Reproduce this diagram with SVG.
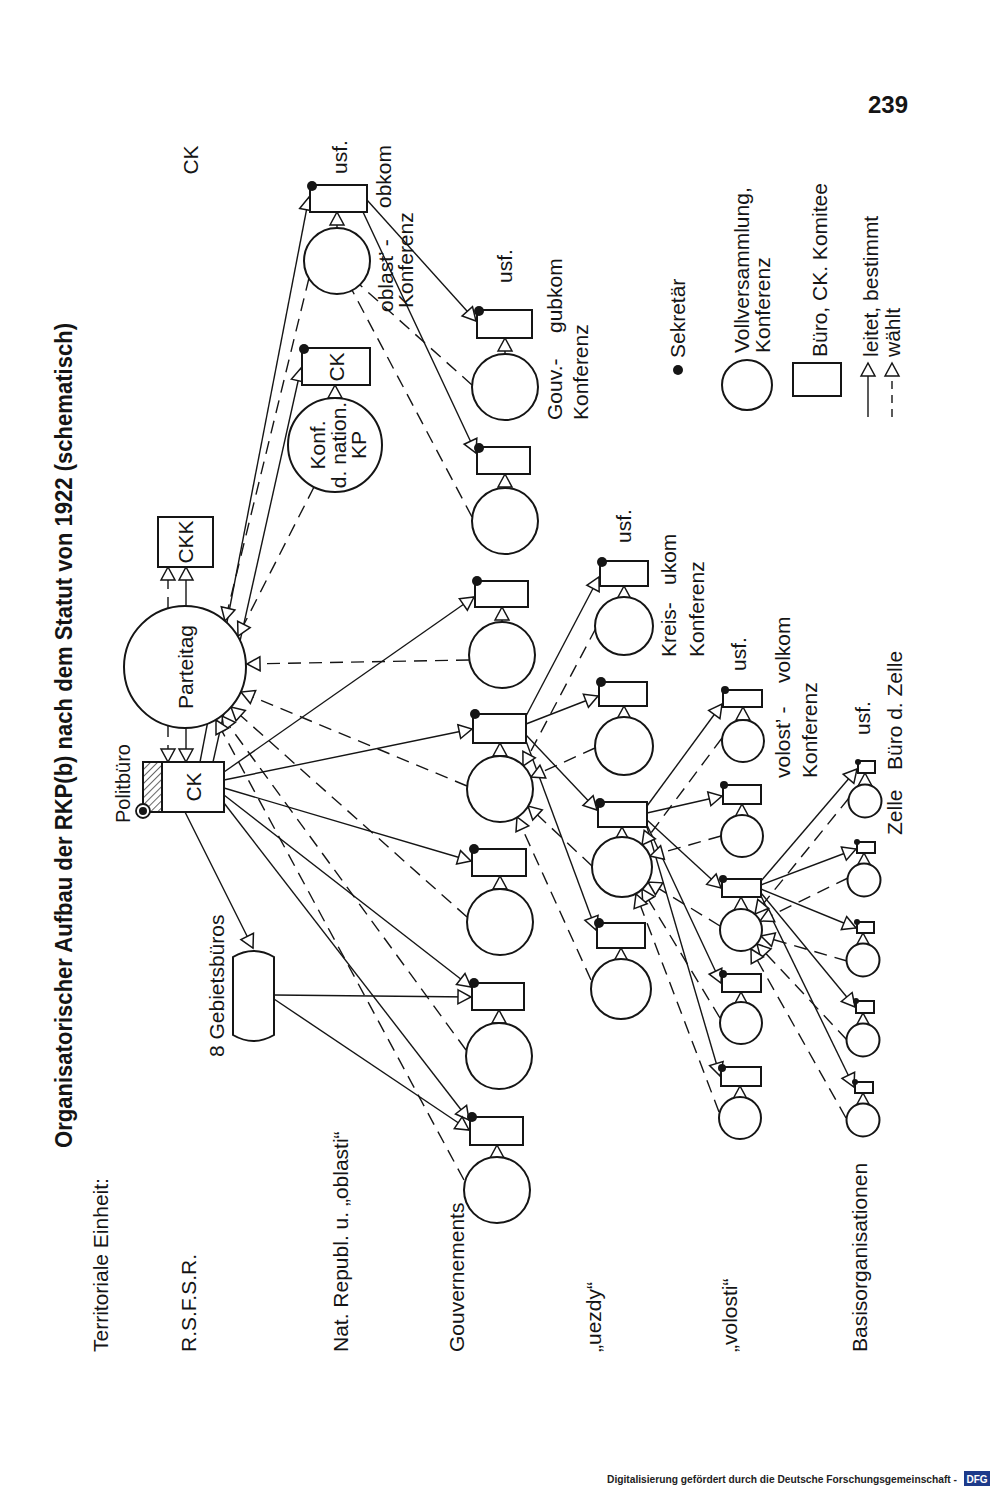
<svg xmlns="http://www.w3.org/2000/svg" width="1000" height="1495" viewBox="0 0 1000 1495">
<defs>
<style>
.t{font-family:"Liberation Sans",Arial,sans-serif;font-size:21px;fill:#151515}
.title{font-family:"Liberation Sans",Arial,sans-serif;font-size:24px;font-weight:bold;fill:#151515}
.c,.b{fill:#fff;stroke:#151515;stroke-width:2}
.dot{fill:#151515}
.s{fill:none;stroke:#151515;stroke-width:1.4}
.d{fill:none;stroke:#151515;stroke-width:1.4;stroke-dasharray:13 8}
.sa{marker-end:url(#a)}
</style>
<marker id="a" markerUnits="userSpaceOnUse" markerWidth="18" markerHeight="18" viewBox="-2 -2 18 18" refX="13" refY="7" orient="auto">
<path d="M0,0 L13,7 L0,14 Z" fill="#fff" stroke="#151515" stroke-width="1.5" stroke-dasharray="none"/>
</marker>
<pattern id="hatch" patternUnits="userSpaceOnUse" width="5" height="5" patternTransform="rotate(45)">
<line x1="0" y1="0" x2="0" y2="5" stroke="#151515" stroke-width="1.3"/>
</pattern>
</defs>
<rect x="0" y="0" width="1000" height="1495" fill="#fff"/>

<!-- page texts -->
<g id="header">
<text class="title" transform="translate(72,1148) rotate(-90)" textLength="825" lengthAdjust="spacingAndGlyphs">Organisatorischer Aufbau der RKP(b) nach dem Statut von 1922 (schematisch)</text>
<text x="888" y="113" text-anchor="middle" style="font-family:'Liberation Sans',Arial,sans-serif;font-size:24px;font-weight:bold;fill:#151515">239</text>
<text class="t" transform="translate(198,160) rotate(-90)" text-anchor="middle">CK</text>
</g>

<g id="row-labels">
<text class="t" transform="translate(108,1352) rotate(-90)">Territoriale Einheit:</text>
<text class="t" transform="translate(196,1352) rotate(-90)">R.S.F.S.R.</text>
<text class="t" transform="translate(348,1352) rotate(-90)">Nat. Republ. u. „oblasti“</text>
<text class="t" transform="translate(464,1352) rotate(-90)">Gouvernements</text>
<text class="t" transform="translate(601,1352) rotate(-90)">„uezdy“</text>
<text class="t" transform="translate(737,1352) rotate(-90)">„volosti“</text>
<text class="t" transform="translate(867,1352) rotate(-90)">Basisorganisationen</text>
</g>

<g id="connectors">
<!-- Parteitag to CKK and CK -->
<line class="s sa" x1="186" y1="606" x2="186" y2="567"/>
<line class="d sa" x1="168" y1="610" x2="168" y2="567"/>
<line class="s sa" x1="186" y1="728" x2="186" y2="762"/>
<line class="d sa" x1="168" y1="724" x2="168" y2="762"/>
<!-- CK leitet -->
<line class="s sa" x1="200" y1="762" x2="309" y2="197"/>
<line class="s sa" x1="213" y1="762" x2="301" y2="368"/>
<line class="s sa" x1="224" y1="772" x2="474" y2="597"/>
<line class="s sa" x1="224" y1="780" x2="472" y2="729"/>
<line class="s sa" x1="224" y1="788" x2="471" y2="861"/>
<line class="s sa" x1="224" y1="795" x2="471" y2="987"/>
<line class="s sa" x1="224" y1="803" x2="469" y2="1120"/>
<line class="s sa" x1="185" y1="812" x2="253" y2="948"/>
<!-- Gebietsbueros -->
<line class="s sa" x1="274" y1="995" x2="471" y2="997"/>
<line class="s sa" x1="274" y1="999" x2="469" y2="1130"/>
<!-- obkom -->
<line class="s sa" x1="367" y1="200" x2="476" y2="321"/>
<line class="s sa" x1="363" y1="212" x2="476" y2="453"/>
<!-- Gouv box to uezd boxes -->
<line class="s sa" x1="526" y1="716" x2="599" y2="577"/>
<line class="s sa" x1="526" y1="724" x2="598" y2="696"/>
<line class="s sa" x1="526" y1="735" x2="597" y2="810"/>
<line class="s sa" x1="526" y1="741" x2="596" y2="930"/>
<!-- uezd box to volost boxes -->
<line class="s sa" x1="647" y1="806" x2="722" y2="704"/>
<line class="s sa" x1="647" y1="813" x2="722" y2="796"/>
<line class="s sa" x1="647" y1="820" x2="721" y2="888"/>
<line class="s sa" x1="647" y1="825" x2="721" y2="983"/>
<line class="s sa" x1="647" y1="827" x2="720" y2="1076"/>
<!-- volost box to Zelle boxes -->
<line class="s sa" x1="761" y1="881" x2="857" y2="769"/>
<line class="s sa" x1="761" y1="885" x2="856" y2="849"/>
<line class="s sa" x1="761" y1="889" x2="856" y2="928"/>
<line class="s sa" x1="761" y1="893" x2="855" y2="1007"/>
<line class="s sa" x1="761" y1="896" x2="854" y2="1087"/>
<!-- waehlt: to Parteitag -->
<line class="d sa" x1="309" y1="278" x2="225" y2="621"/>
<line class="d sa" x1="314" y1="487" x2="238" y2="636"/>
<line class="d sa" x1="469" y1="660" x2="247" y2="664"/>
<line class="d sa" x1="467" y1="786" x2="241" y2="692"/>
<line class="d sa" x1="467" y1="917" x2="231" y2="707"/>
<line class="d sa" x1="466" y1="1050" x2="222" y2="716"/>
<line class="d sa" x1="464" y1="1180" x2="216" y2="720"/>
<!-- waehlt: Gouv to oblast' Konferenz -->
<line class="d" x1="472" y1="385" x2="360" y2="285"/>
<line class="d" x1="472" y1="517" x2="352" y2="290"/>
<!-- waehlt: uezd to Gouv -->
<line class="d sa" x1="596" y1="628" x2="523" y2="766"/>
<line class="d sa" x1="595" y1="748" x2="531" y2="777"/>
<line class="d sa" x1="592" y1="866" x2="528" y2="806"/>
<line class="d sa" x1="591" y1="980" x2="517" y2="817"/>
<!-- waehlt: volost to uezd -->
<line class="d sa" x1="722" y1="738" x2="642" y2="845"/>
<line class="d sa" x1="721" y1="836" x2="650" y2="856"/>
<line class="d sa" x1="720" y1="926" x2="648" y2="882"/>
<line class="d sa" x1="720" y1="1018" x2="642" y2="889"/>
<line class="d sa" x1="719" y1="1112" x2="636" y2="894"/>
<!-- waehlt: Zelle to volost -->
<line class="d sa" x1="849" y1="798" x2="755" y2="914"/>
<line class="d sa" x1="848" y1="878" x2="760" y2="921"/>
<line class="d sa" x1="847" y1="961" x2="761" y2="936"/>
<line class="d sa" x1="847" y1="1040" x2="757" y2="944"/>
<line class="d sa" x1="846" y1="1118" x2="751" y2="949"/>
<!-- conference to own committee -->
<line class="s sa" x1="337" y1="228" x2="337" y2="212"/>
<line class="s sa" x1="335" y1="398" x2="335" y2="385"/>
<line class="s sa" x1="505" y1="354" x2="505" y2="338"/>
<line class="s sa" x1="505" y1="488" x2="505" y2="474"/>
<line class="s sa" x1="502" y1="622" x2="502" y2="607"/>
<line class="s sa" x1="500" y1="756" x2="500" y2="743"/>
<line class="s sa" x1="500" y1="889" x2="500" y2="876"/>
<line class="s sa" x1="499" y1="1023" x2="499" y2="1010"/>
<line class="s sa" x1="497" y1="1157" x2="497" y2="1145"/>
<line class="s sa" x1="624" y1="597" x2="624" y2="586"/>
<line class="s sa" x1="624" y1="717" x2="624" y2="706"/>
<line class="s sa" x1="622" y1="837" x2="622" y2="827"/>
<line class="s sa" x1="621" y1="959" x2="621" y2="948"/>
<line class="s sa" x1="743" y1="720" x2="743" y2="707"/>
<line class="s sa" x1="742" y1="815" x2="742" y2="804"/>
<line class="s sa" x1="741" y1="909" x2="741" y2="897"/>
<line class="s sa" x1="741" y1="1002" x2="741" y2="992"/>
<line class="s sa" x1="740" y1="1097" x2="740" y2="1086"/>
<line class="s sa" x1="865" y1="785" x2="865" y2="773"/>
<line class="s sa" x1="864" y1="864" x2="864" y2="853"/>
<line class="s sa" x1="863" y1="944" x2="863" y2="933"/>
<line class="s sa" x1="863" y1="1024" x2="863" y2="1013"/>
<line class="s sa" x1="863" y1="1104" x2="863" y2="1093"/>
</g>

<!-- central nodes -->
<g id="parteitag">
<circle class="c" cx="185" cy="667" r="61"/>
<text class="t" transform="translate(192.5,667) rotate(-90)" text-anchor="middle">Parteitag</text>
</g>
<g id="ckk">
<rect class="b" x="158" y="517" width="55" height="50"/>
<text class="t" transform="translate(193,542) rotate(-90)" text-anchor="middle">CKK</text>
</g>
<g id="politbuero">
<rect x="143" y="762" width="19" height="50" fill="url(#hatch)" stroke="#151515" stroke-width="2"/>
<circle cx="143" cy="811" r="7" fill="#fff" stroke="#151515" stroke-width="1.8"/>
<circle class="dot" cx="143" cy="811" r="4"/>
<text class="t" transform="translate(130,823) rotate(-90)" style="font-size:20px">Politbüro</text>
</g>
<g id="ck">
<rect class="b" x="162" y="762" width="62" height="50"/>
<text class="t" transform="translate(200.5,787) rotate(-90)" text-anchor="middle">CK</text>
</g>
<g id="gebietsbueros">
<path class="b" d="M233,957 Q253.5,945 274,957 L274,1035 Q253.5,1047 233,1035 Z"/>
<text class="t" transform="translate(224,1057) rotate(-90)">8 Gebietsbüros</text>
</g>

<!-- oblast level -->
<g id="obkom">
<rect class="b" x="310" y="185" width="57" height="27"/>
<circle class="dot" cx="312" cy="186" r="5"/>
<text class="t" transform="translate(347,157) rotate(-90)" text-anchor="middle">usf.</text>
<text class="t" transform="translate(391,208) rotate(-90)">obkom</text>
</g>
<g id="oblast-konferenz">
<circle class="c" cx="337" cy="261" r="33"/>
<text class="t" transform="translate(393,312) rotate(-90)">oblast’ -</text>
<text class="t" transform="translate(413,308) rotate(-90)">Konferenz</text>
</g>
<g id="nat-ck">
<rect class="b" x="302" y="348" width="68" height="37"/>
<circle class="dot" cx="304" cy="349" r="5"/>
<text class="t" transform="translate(344,367) rotate(-90)" text-anchor="middle">CK</text>
</g>
<g id="nat-konferenz">
<circle class="c" cx="335" cy="445" r="47"/>
<text class="t" transform="translate(325,445) rotate(-90)" text-anchor="middle">Konf.</text>
<text class="t" transform="translate(346,445) rotate(-90)" text-anchor="middle">d. nation.</text>
<text class="t" transform="translate(366,445) rotate(-90)" text-anchor="middle">KP</text>
</g>

<!-- Gouvernements under oblast -->
<g id="gubkom-a">
<rect class="b" x="477" y="310" width="55" height="28"/>
<circle class="dot" cx="479" cy="311" r="5"/>
<text class="t" transform="translate(512,266) rotate(-90)" text-anchor="middle">usf.</text>
<text class="t" transform="translate(562,333) rotate(-90)">gubkom</text>
</g>
<g id="gouv-konferenz-a">
<circle class="c" cx="505" cy="387" r="33"/>
<text class="t" transform="translate(562,420) rotate(-90)">Gouv.-</text>
<text class="t" transform="translate(588,420) rotate(-90)">Konferenz</text>
</g>
<g id="gubkom-b">
<rect class="b" x="477" y="447" width="53" height="27"/>
<circle class="dot" cx="479" cy="448" r="5"/>
</g>
<g id="gouv-konferenz-b"><circle class="c" cx="505" cy="521" r="33"/></g>

<!-- Gouvernements under CK -->
<g id="gubkom-1"><rect class="b" x="475" y="581" width="53" height="26"/><circle class="dot" cx="477" cy="581" r="5"/></g>
<g id="gouv-konferenz-1"><circle class="c" cx="502" cy="655" r="33"/></g>
<g id="gubkom-2"><rect class="b" x="473" y="714" width="53" height="29"/><circle class="dot" cx="475" cy="714" r="5"/></g>
<g id="gouv-konferenz-2"><circle class="c" cx="500" cy="789" r="33"/></g>
<g id="gubkom-3"><rect class="b" x="472" y="849" width="54" height="27"/><circle class="dot" cx="474" cy="849" r="5"/></g>
<g id="gouv-konferenz-3"><circle class="c" cx="500" cy="922" r="33"/></g>
<g id="gubkom-4"><rect class="b" x="472" y="983" width="52" height="27"/><circle class="dot" cx="474" cy="983" r="5"/></g>
<g id="gouv-konferenz-4"><circle class="c" cx="499" cy="1056" r="33"/></g>
<g id="gubkom-5"><rect class="b" x="470" y="1117" width="53" height="28"/><circle class="dot" cx="472" cy="1117" r="5"/></g>
<g id="gouv-konferenz-5"><circle class="c" cx="497" cy="1190" r="33"/></g>

<!-- uezdy -->
<g id="ukom-1">
<rect class="b" x="600" y="561" width="48" height="25"/><circle class="dot" cx="602" cy="562" r="5"/>
<text class="t" transform="translate(631,526) rotate(-90)" text-anchor="middle">usf.</text>
<text class="t" transform="translate(676,585) rotate(-90)">ukom</text>
</g>
<g id="kreis-konferenz-1">
<circle class="c" cx="624" cy="626" r="29"/>
<text class="t" transform="translate(676,657) rotate(-90)">Kreis-</text>
<text class="t" transform="translate(704,657) rotate(-90)">Konferenz</text>
</g>
<g id="ukom-2"><rect class="b" x="599" y="682" width="48" height="24"/><circle class="dot" cx="601" cy="682" r="5"/></g>
<g id="kreis-konferenz-2"><circle class="c" cx="624" cy="746" r="29"/></g>
<g id="ukom-3"><rect class="b" x="598" y="802" width="49" height="25"/><circle class="dot" cx="600" cy="803" r="5"/></g>
<g id="kreis-konferenz-3"><circle class="c" cx="622" cy="867" r="30"/></g>
<g id="ukom-4"><rect class="b" x="597" y="923" width="48" height="25"/><circle class="dot" cx="599" cy="923" r="5"/></g>
<g id="kreis-konferenz-4"><circle class="c" cx="621" cy="989" r="30"/></g>

<!-- volosti -->
<g id="volkom-1">
<rect class="b" x="723" y="690" width="39" height="17"/><circle class="dot" cx="725" cy="690" r="4"/>
<text class="t" transform="translate(746,654) rotate(-90)" text-anchor="middle">usf.</text>
<text class="t" transform="translate(790,683) rotate(-90)">volkom</text>
</g>
<g id="volost-konferenz-1">
<circle class="c" cx="743" cy="741" r="21"/>
<text class="t" transform="translate(790,778) rotate(-90)">volost’ -</text>
<text class="t" transform="translate(817,778) rotate(-90)">Konferenz</text>
</g>
<g id="volkom-2"><rect class="b" x="723" y="785" width="38" height="19"/><circle class="dot" cx="724" cy="785" r="4"/></g>
<g id="volost-konferenz-2"><circle class="c" cx="742" cy="836" r="21"/></g>
<g id="volkom-3"><rect class="b" x="722" y="879" width="39" height="18"/><circle class="dot" cx="723" cy="879" r="4"/></g>
<g id="volost-konferenz-3"><circle class="c" cx="741" cy="930" r="21"/></g>
<g id="volkom-4"><rect class="b" x="722" y="974" width="39" height="18"/><circle class="dot" cx="723" cy="974" r="4"/></g>
<g id="volost-konferenz-4"><circle class="c" cx="741" cy="1023" r="21"/></g>
<g id="volkom-5"><rect class="b" x="721" y="1067" width="40" height="19"/><circle class="dot" cx="722" cy="1068" r="4"/></g>
<g id="volost-konferenz-5"><circle class="c" cx="740" cy="1118" r="21"/></g>

<!-- Zellen -->
<g id="zellbuero-1">
<rect class="b" x="858" y="761" width="17" height="12"/><circle class="dot" cx="858" cy="762" r="3"/>
<text class="t" transform="translate(870,718) rotate(-90)" text-anchor="middle">usf.</text>
<text class="t" transform="translate(902,770) rotate(-90)">Büro d. Zelle</text>
</g>
<g id="zelle-1">
<circle class="c" cx="865" cy="801" r="16.5"/>
<text class="t" transform="translate(902,835) rotate(-90)">Zelle</text>
</g>
<g id="zellbuero-2"><rect class="b" x="857" y="842" width="18" height="11"/><circle class="dot" cx="857" cy="842" r="3"/></g>
<g id="zelle-2"><circle class="c" cx="864" cy="880" r="16.5"/></g>
<g id="zellbuero-3"><rect class="b" x="857" y="922" width="17" height="11"/><circle class="dot" cx="857" cy="922" r="3"/></g>
<g id="zelle-3"><circle class="c" cx="863" cy="960" r="16.5"/></g>
<g id="zellbuero-4"><rect class="b" x="856" y="1001" width="18" height="12"/><circle class="dot" cx="856" cy="1001" r="3"/></g>
<g id="zelle-4"><circle class="c" cx="863" cy="1040" r="16.5"/></g>
<g id="zellbuero-5"><rect class="b" x="855" y="1082" width="18" height="11"/><circle class="dot" cx="855" cy="1082" r="3"/></g>
<g id="zelle-5"><circle class="c" cx="863" cy="1120" r="16.5"/></g>

<!-- legend -->
<g id="legend">
<circle class="dot" cx="678" cy="370" r="5"/>
<text class="t" transform="translate(685,358) rotate(-90)">Sekretär</text>
<circle class="c" cx="747" cy="385" r="25"/>
<text class="t" transform="translate(749,353) rotate(-90)">Vollversammlung,</text>
<text class="t" transform="translate(770,353) rotate(-90)">Konferenz</text>
<rect class="b" x="793" y="363" width="48" height="33"/>
<text class="t" transform="translate(827,357) rotate(-90)">Büro, CK. Komitee</text>
<line class="s sa" x1="868" y1="417" x2="868" y2="363"/>
<line class="s sa" x1="892" y1="417" x2="892" y2="363" style="stroke-dasharray:8 6"/>
<text class="t" transform="translate(878,357) rotate(-90)">leitet, bestimmt</text>
<text class="t" transform="translate(900,357) rotate(-90)">wählt</text>
</g>

<g id="footer">
<text x="607" y="1483" textLength="350" lengthAdjust="spacingAndGlyphs" style="font-family:'Liberation Sans',Arial,sans-serif;font-size:10px;font-weight:bold;fill:#222">Digitalisierung gefördert durch die Deutsche Forschungsgemeinschaft -</text>
<rect x="964" y="1471" width="26" height="15" fill="#1d3a8a"/>
<text x="977" y="1483" text-anchor="middle" style="font-family:'Liberation Sans',Arial,sans-serif;font-size:10px;font-weight:bold;fill:#fff">DFG</text>
</g>
</svg>
